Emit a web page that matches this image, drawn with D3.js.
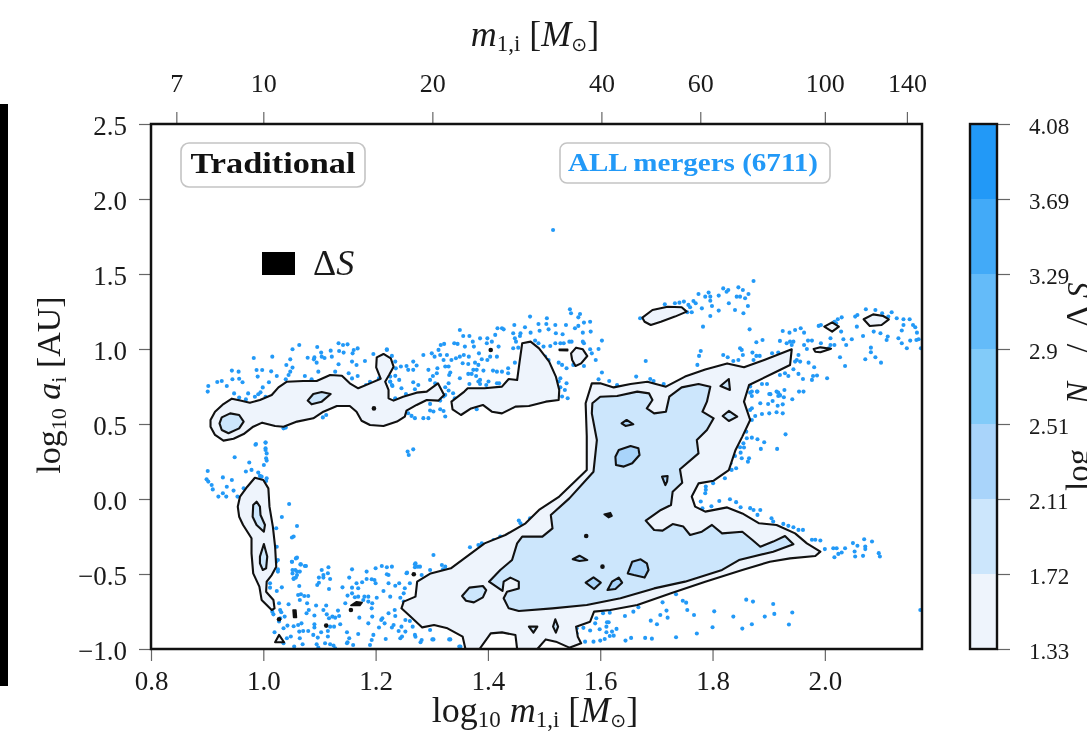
<!DOCTYPE html>
<html><head><meta charset="utf-8">
<script src="https://d3js.org/d3.v7.min.js"></script>
<style>
html,body{margin:0;padding:0;background:#fff;overflow:hidden}
svg{display:block;filter:blur(0.7px)}
text{font-family:"Liberation Serif","DejaVu Serif",serif;fill:#1a1a1a}
</style></head><body><div id="c"></div>
<script>
// ---------- categories / tick labels ----------
const xTicks=[0.8,1.0,1.2,1.4,1.6,1.8,2.0];
const yTicks=[-1.0,-0.5,0,0.5,1.0,1.5,2.0,2.5];
const massTicks=[7,10,20,40,60,100,140];
const levelLabels=["1.33","1.72","2.11","2.51","2.9","3.29","3.69","4.08"];
const levelColors=["#eef4fc","#cce6fc","#a9d4fa","#82cbf9","#64bbf9","#42aaf8","#2299f7"];

// ---------- contours, level 1.33 ----------
const bandA=[[.906,.527],[.914,.582],[.929,.633],[.944,.669],[.959,.656],[.976,.642],[.994,.66],[1.015,.693],[1.027,.744],[1.042,.782],[1.071,.787],[1.095,.787],[1.119,.827],[1.14,.822],[1.154,.771],[1.169,.738],[1.19,.771],[1.209,.802],[1.201,.878],[1.202,.944],[1.214,.967],[1.227,.938],[1.232,.882],[1.224,.827],[1.217,.782],[1.223,.727],[1.223,.671],[1.232,.656],[1.249,.682],[1.273,.709],[1.291,.716],[1.311,.771],[1.322,.693],[1.312,.656],[1.291,.66],[1.273,.627],[1.255,.589],[1.252,.549],[1.238,.516],[1.214,.487],[1.19,.493],[1.175,.522],[1.166,.582],[1.154,.62],[1.131,.62],[1.107,.582],[1.089,.538],[1.06,.516],[1.036,.482],[1.021,.487],[.998,.509],[.982,.482],[.965,.433],[.947,.402],[.929,.389],[.914,.427],[.906,.482]];
const bandB=[[1.335,.649],[1.358,.716],[1.364,.738],[1.394,.738],[1.425,.749],[1.437,.8],[1.452,.793],[1.456,.904],[1.461,1.038],[1.476,1.049],[1.491,1.004],[1.509,.916],[1.521,.816],[1.527,.727],[1.526,.66],[1.503,.649],[1.473,.62],[1.449,.616],[1.425,.571],[1.407,.582],[1.391,.627],[1.37,.604],[1.352,.56],[1.337,.598]];
const blobC=[[1.548,.971],[1.557,1.009],[1.569,.998],[1.577,.953],[1.566,.904],[1.556,.887],[1.55,.927]];
const blobD=[[1.675,1.209],[1.693,1.26],[1.72,1.282],[1.745,1.278],[1.754,1.249],[1.733,1.216],[1.708,1.182],[1.69,1.16],[1.679,1.182]];
const blobE=[[1.999,1.149],[2.013,1.178],[2.025,1.149],[2.013,1.116]];
const blobF=[[2.069,1.198],[2.086,1.231],[2.104,1.22],[2.114,1.198],[2.101,1.16],[2.08,1.153]];
const blobG=[[1.98,1.0],[1.992,1.011],[2.011,1.002],[1.992,.978],[1.983,.982]];
const mainOuter=[[1.585,.771],[1.6,.771],[1.624,.744],[1.654,.767],[1.684,.782],[1.717,.749],[1.751,.816],[1.787,.864],[1.826,.904],[1.856,.878],[1.892,.927],[1.941,.998],[1.938,.893],[1.908,.838],[1.865,.76],[1.856,.649],[1.867,.527],[1.853,.416],[1.841,.327],[1.829,.193],[1.802,.122],[1.775,.104],[1.763,.016],[1.769,-.051],[1.787,-.084],[1.826,-.056],[1.853,-.096],[1.883,-.162],[1.914,-.173],[1.947,-.229],[1.968,-.296],[1.992,-.351],[1.983,-.38],[1.938,-.396],[1.902,-.418],[1.853,-.473],[1.787,-.551],[1.726,-.629],[1.666,-.707],[1.618,-.74],[1.589,-.751],[1.582,-.818],[1.557,-.851],[1.56,-.918],[1.566,-.962],[1.545,-.991],[1.521,-.951],[1.503,-.936],[1.488,-1],[1.452,-1],[1.449,-.907],[1.425,-.889],[1.405,-.896],[1.385,-1],[1.36,-1],[1.355,-.918],[1.328,-.862],[1.304,-.84],[1.283,-.856],[1.262,-.784],[1.246,-.729],[1.25,-.684],[1.271,-.651],[1.274,-.551],[1.298,-.496],[1.334,-.462],[1.358,-.396],[1.394,-.296],[1.431,-.24],[1.467,-.162],[1.491,-.073],[1.527,.016],[1.576,.193],[1.576,.42],[1.574,.638]];
const bandJ=[[.9545,-.051],[.9585,.016],[.9715,.082],[.985,.142],[1.0,.127],[1.009,.071],[1.011,-.051],[1.017,-.184],[1.021,-.318],[1.023,-.451],[1.015,-.507],[1.006,-.551],[1.005,-.618],[1.018,-.673],[1.02,-.729],[1.015,-.74],[.997,-.673],[.993,-.584],[.982,-.496],[.979,-.362],[.979,-.262],[.964,-.173],[.957,-.118]];
const tinyTriangle=[[1.021,-.955],[1.028,-.906],[1.037,-.955]];

// ---------- contours, level 1.72 ----------
const innerA1=[[.922,.504],[.926,.544],[.941,.571],[.957,.56],[.965,.516],[.957,.471],[.938,.438],[.926,.46]];
const innerA2=[[1.079,.656],[1.089,.7],[1.104,.713],[1.12,.7],[1.104,.649],[1.086,.631]];
const innerJ1=[[.982,-.04],[.988,-.018],[.994,-.051],[.995,-.107],[1.003,-.173],[1.001,-.218],[.988,-.173],[.981,-.118]];
const innerJ2=[[.994,-.384],[1.001,-.3],[1.007,-.384],[1.005,-.462],[.999,-.473],[.994,-.429]];
const mainInner=[[1.586,.638],[1.6,.682],[1.63,.687],[1.666,.716],[1.687,.704],[1.693,.66],[1.683,.604],[1.696,.571],[1.717,.582],[1.723,.682],[1.745,.744],[1.775,.767],[1.796,.749],[1.79,.649],[1.782,.582],[1.802,.538],[1.79,.46],[1.772,.393],[1.775,.304],[1.742,.198],[1.746,.109],[1.729,.049],[1.726,-.04],[1.708,-.073],[1.681,-.144],[1.696,-.207],[1.711,-.211],[1.729,-.167],[1.748,-.184],[1.76,-.24],[1.781,-.218],[1.799,-.173],[1.817,-.229],[1.853,-.218],[1.871,-.273],[1.885,-.318],[1.908,-.284],[1.929,-.247],[1.944,-.302],[1.908,-.351],[1.847,-.407],[1.817,-.473],[1.751,-.551],[1.696,-.596],[1.636,-.662],[1.576,-.707],[1.515,-.729],[1.455,-.747],[1.437,-.729],[1.428,-.662],[1.434,-.618],[1.455,-.596],[1.455,-.551],[1.44,-.524],[1.428,-.551],[1.426,-.613],[1.402,-.551],[1.422,-.473],[1.443,-.407],[1.452,-.296],[1.461,-.251],[1.497,-.251],[1.515,-.196],[1.512,-.107],[1.545,.004],[1.588,.182],[1.594,.393],[1.585,.571]];
const blobL=[[1.354,-.647],[1.367,-.591],[1.391,-.58],[1.397,-.607],[1.391,-.656],[1.375,-.689],[1.361,-.678]];
const islandS6=[[1.473,-.851],[1.488,-.851],[1.481,-.891]];
const islandS7=[[1.516,-.851],[1.52,-.802],[1.525,-.851],[1.521,-.891]];
const islandS8=[[1.814,.753],[1.829,.8],[1.831,.727]];
const islandS9=[[1.818,.553],[1.829,.587],[1.844,.549],[1.829,.52]];

// ---------- contours, level 2.11 ----------
const blobK1=[[1.627,.282],[1.633,.327],[1.654,.353],[1.668,.338],[1.67,.293],[1.657,.238],[1.642,.216],[1.628,.227]];
const blobK2=[[1.649,-.496],[1.657,-.418],[1.672,-.402],[1.683,-.429],[1.686,-.473],[1.679,-.524],[1.66,-.507]];
const islandS1=[[1.638,.504],[1.647,.527],[1.659,.498],[1.645,.487]];
const islandS2=[[1.71,.149],[1.72,.153],[1.719,.116],[1.716,.093]];
const islandS3=[[1.551,-.402],[1.563,-.378],[1.577,-.407],[1.563,-.413]];
const islandS4=[[1.574,-.558],[1.588,-.522],[1.601,-.558],[1.589,-.6]];
const islandS5=[[1.613,-.607],[1.621,-.551],[1.633,-.524],[1.639,-.558],[1.627,-.6]];

// ---------- tiny nearly-black contour islands ----------
const darkIslands=[
 [[1.527,.998],[1.542,.998],[1.542,.989],[1.527,.991]],
 [[1.607,-.102],[1.618,-.091],[1.621,-.113],[1.615,-.124]],
 [[1.053,-.74],[1.058,-.74],[1.059,-.79],[1.054,-.79]],
 [[1.156,-.71],[1.166,-.685],[1.176,-.69],[1.172,-.71]]
];
const darkSpots=[[1.197,.604],[1.575,-.247],[1.604,-.451],[1.268,-.502],[1.405,.993],[1.156,-.74],[1.112,-.844],[1.028,-.802]];

// ---------- individual mergers outside the contours ----------
const mergersUpperLeft=[[.902,.753],[.901,.716],[.918,.78],[.926,.787],[.935,.753],[.944,.856],[.956,.849],[.945,.798],[.957,.802],[.963,.778],[.983,.94],[.988,.86],[.998,.86],[.99,.816],[1.014,.851],[1.016,.949],[1.024,.82],[1.01,.778],[.999,.744],[.973,.704],[.948,.704],[.957,.676],[.969,.664],[.985,.682],[.991,.698],[.995,.711],[1.004,.682],[1.041,.893],[1.048,.931],[1.052,.998],[1.064,1.027],[1.052,.876],[1.048,.849],[1.045,.827],[1.04,.798],[1.074,.82],[1.086,.798],[1.098,.849],[1.079,.942],[1.091,.944],[1.09,.931],[1.095,.909],[1.096,1.013],[1.103,.976],[1.104,.949],[1.109,.94],[1.12,.989],[1.122,.949],[1.134,1.038],[1.142,1.027],[1.15,1.031],[1.135,.987],[1.143,.976],[1.161,.993],[1.168,1.004],[1.159,.971],[1.134,.898],[1.128,.849],[1.158,.916],[1.166,.893],[1.181,.92],[1.152,.838],[1.158,.804],[1.168,.82],[1.196,.967],[1.22,.993],[1.206,.804],[1.19,.782],[1.183,.76],[1.226,.782],[1.229,.76],[1.235,.671],[1.22,.727],[1.036,.471],[1.04,.476],[1.106,.544],[1.112,.56],[.987,.367],[1.004,.376],[1.004,.338]];
const mergersMidLeft=[[.986,.362],[1.004,.376],[1.004,.327],[1.006,.304],[.949,.278],[1.005,.271],[1.006,.256],[.975,.243],[1.001,.227],[.901,.187],[.969,.183],[.979,.194],[.991,.176],[.994,.154],[1.006,.138],[1.005,.12],[.899,.131],[.902,.116],[.928,.144],[.944,.127],[.908,.093],[.91,.064],[.935,.082],[.947,.056],[.928,.038],[.92,.016],[.934,.016],[.965,.071],[.954,.016],[.997,.149],[1.046,-.033],[1.033,-.12],[1.023,-.195],[1.06,-.18],[1.054,-.25],[1.051,-.257],[1.024,-.318],[1.023,-.418],[1.026,-.469],[1.058,-.396],[1.051,-.418],[1.066,-.436],[1.074,-.447],[1.057,-.473],[1.052,-.496],[1.06,-.507],[1.054,-.529],[1.303,-.373],[1.257,.316],[1.259,.293],[1.267,.331]];
const mergersLowerLeft=[[1.051,-.418],[1.06,-.391],[1.067,-.436],[1.076,-.447],[1.052,-.473],[1.06,-.484],[1.065,-.484],[1.058,-.524],[1.054,-.533],[1.026,-.407],[1.026,-.484],[1.012,-.562],[1.012,-.591],[1.033,-.589],[1.024,-.613],[1.064,-.58],[1.062,-.64],[1.067,-.635],[1.073,-.647],[1.08,-.647],[1.065,-.673],[1.045,-.702],[1.028,-.695],[1.03,-.74],[1.032,-.755],[1.016,-.751],[1.018,-.769],[1.038,-.784],[1.03,-.795],[1.028,-.817],[1.036,-.862],[1.043,-.844],[1.054,-.848],[1.062,-.84],[1.068,-.829],[1.064,-.884],[1.071,-.88],[1.08,-.88],[1.078,-.695],[1.081,-.74],[1.077,-.762],[1.094,-.71],[1.091,-.777],[1.112,-.71],[1.107,-.74],[1.113,-.769],[1.117,-.795],[1.123,-.784],[1.128,-.791],[1.135,-.78],[1.133,-.744],[1.091,-.835],[1.091,-.857],[1.103,-.888],[1.115,-.88],[1.119,-.851],[1.126,-.851],[1.137,-.835],[1.089,-.906],[1.097,-.924],[1.115,-.917],[1.095,-.968],[1.098,-.99],[1.11,-.962],[1.119,-.968],[1.125,-.977],[1.128,-.995],[1.07,-.968],[1.065,-.928],[1.049,-.917],[1.042,-.928],[1.02,-.888],[1.036,-.962],[1.055,-.984],[1.149,-.888],[1.169,-.9],[1.153,-.928],[1.15,-.955],[1.16,-.973],[1.149,-.962],[1.196,-.906],[1.193,-.94],[1.19,-.973],[1.187,-.829],[1.206,-.857],[1.216,-.829],[1.232,-.84],[1.212,-.795],[1.21,-.806],[1.229,-.857],[1.218,-.933],[1.241,-.88],[1.253,-.884],[1.247,-.917],[1.244,-.928],[1.261,-.813],[1.266,-.851],[1.27,-.906],[1.282,-.94],[1.28,-.955],[1.223,-.762],[1.234,-.74],[1.235,-.78],[1.25,-.684],[1.244,-.658],[1.226,-.651],[1.214,-.613],[1.194,-.784],[1.193,-.729],[1.194,-.695],[1.202,-.658],[1.187,-.651],[1.18,-.651],[1.187,-.684],[1.178,-.673],[1.169,-.651],[1.163,-.655],[1.15,-.644],[1.146,-.695],[1.171,-.791],[1.158,-.591],[1.141,-.589],[1.117,-.6],[1.107,-.524],[1.099,-.524],[1.096,-.573],[1.099,-.558],[1.107,-.507],[1.119,-.533],[1.104,-.473],[1.116,-.455],[1.115,-.495],[1.158,-.469],[1.153,-.524],[1.166,-.562],[1.176,-.555],[1.184,-.533],[1.193,-.535],[1.198,-.54],[1.2,-.562],[1.223,-.507],[1.22,-.502],[1.223,-.562],[1.235,-.578],[1.242,-.562],[1.252,-.595],[1.25,-.629],[1.261,-.562],[1.255,-.495],[1.27,-.435],[1.279,-.451],[1.27,-.455],[1.229,-.451],[1.22,-.455],[1.211,-.447],[1.2,-.462],[1.184,-.484],[1.169,-.595],[1.158,-.629],[1.271,-.429],[1.275,-.451],[1.318,-.44],[1.324,-.451],[1.32,-.469],[1.297,-.473],[1.282,-.507],[1.256,-.491],[1.351,-.44],[1.368,-.322],[1.383,-.307],[1.389,-.296],[1.41,-.273],[1.422,-.251],[1.455,-.144],[1.475,-.129],[1.458,-.162],[1.303,-.936],[1.333,-.936],[1.351,-.984],[1.297,-.873],[1.271,-.918],[1.301,-.936],[1.331,-.936],[1.349,-.984],[1.253,-.807],[1.246,-.851]];
const mergersMiddle=[[1.22,.998],[1.229,.954],[1.235,.916],[1.236,.871],[1.245,.883],[1.255,.887],[1.258,.861],[1.267,.916],[1.273,.89],[1.267,.861],[1.226,.816],[1.235,.821],[1.242,.794],[1.226,.783],[1.23,.754],[1.246,.738],[1.267,.778],[1.276,.76],[1.27,.732],[1.254,.7],[1.235,.667],[1.285,.96],[1.3,.971],[1.312,.994],[1.315,.96],[1.305,.949],[1.321,.927],[1.327,.96],[1.316,1.027],[1.322,1.034],[1.294,.861],[1.31,.872],[1.309,.838],[1.324,.883],[1.33,.883],[1.297,.794],[1.302,.82],[1.306,.772],[1.333,.843],[1.331,.827],[1.33,.772],[1.335,.927],[1.343,.938],[1.35,.949],[1.357,.96],[1.34,1.038],[1.346,1.034],[1.359,1.016],[1.35,1.127],[1.356,1.087],[1.367,1.087],[1.373,1.049],[1.375,1.016],[1.386,1.071],[1.399,1.071],[1.398,1.038],[1.407,1.049],[1.413,1.094],[1.419,1.016],[1.417,1.138],[1.425,1.138],[1.428,1.131],[1.447,1.16],[1.466,1.145],[1.49,1.167],[1.505,1.205],[1.504,1.167],[1.52,1.16],[1.508,1.131],[1.521,1.105],[1.533,1.098],[1.539,1.16],[1.555,1.138],[1.561,1.154],[1.571,1.176],[1.582,1.182],[1.569,1.109],[1.583,1.116],[1.475,1.216],[1.546,1.265],[1.548,1.238],[1.564,1.233],[1.561,1.211],[1.445,1.105],[1.458,1.105],[1.457,1.087],[1.476,1.109],[1.492,1.122],[1.448,1.071],[1.45,1.049],[1.484,1.056],[1.49,1.038],[1.499,1.016],[1.511,1.02],[1.52,1.038],[1.529,1.038],[1.535,1.038],[1.545,1.049],[1.549,1.049],[1.569,1.049],[1.571,1.038],[1.603,1.056],[1.597,1.0],[1.582,.998],[1.585,.971],[1.592,.927],[1.571,.887],[1.54,.872],[1.532,.894],[1.526,.909],[1.508,.927],[1.502,.949],[1.448,.909],[1.436,.872],[1.425,.849],[1.416,.849],[1.409,.856],[1.392,.856],[1.383,.894],[1.377,.909],[1.365,.9],[1.355,.905],[1.366,.949],[1.384,.971],[1.389,.932],[1.399,.927],[1.404,.949],[1.416,.949],[1.445,1.005],[1.454,1.009],[1.386,.794],[1.374,.861],[1.365,.834],[1.371,.834],[1.38,.861],[1.35,.805],[1.367,.767],[1.383,.783],[1.386,.767],[1.401,.783],[1.397,.76],[1.379,.82],[1.416,.772],[1.42,.772],[1.436,.838],[1.529,.805],[1.526,.783],[1.54,.772],[1.529,.745],[1.537,.727],[1.542,.672],[1.532,.683],[1.603,.843],[1.616,.787],[1.597,.798],[1.63,.76],[1.324,.745],[1.33,.723],[1.324,.694],[1.321,.683],[1.338,.705],[1.341,.672],[1.315,.656],[1.285,.661],[1.297,.634],[1.297,.59],[1.303,.583],[1.315,.598],[1.321,.587],[1.324,.55],[1.258,.572],[1.264,.554],[1.27,.539],[1.285,.539],[1.294,.539],[1.38,.598],[1.445,.616],[1.552,.894],[1.505,.905],[1.516,1.793]];
const mergersUpperRight=[[1.873,1.453],[1.846,1.411],[1.854,1.393],[1.819,1.404],[1.825,1.382],[1.828,1.393],[1.793,1.376],[1.775,1.367],[1.787,1.349],[1.796,1.349],[1.811,1.356],[1.843,1.349],[1.849,1.349],[1.864,1.367],[1.858,1.338],[1.796,1.322],[1.799,1.287],[1.766,1.32],[1.77,1.305],[1.781,1.271],[1.829,1.305],[1.811,1.256],[1.84,1.26],[1.863,1.287],[1.855,1.238],[1.715,1.298],[1.733,1.305],[1.741,1.309],[1.749,1.316],[1.757,1.294],[1.76,1.278],[1.755,1.245],[1.763,1.245],[1.796,1.22],[1.783,1.149],[1.671,1.205],[1.866,1.131],[1.925,1.12],[1.937,1.109],[1.947,1.127],[1.957,1.138],[1.963,1.109],[1.993,1.16],[1.989,1.154],[2.017,1.182],[2.023,1.198],[2.03,1.211],[2.02,1.171],[2.029,1.116],[2.058,1.227],[2.054,1.216],[2.073,1.265],[2.09,1.26],[2.102,1.238],[2.119,1.245],[2.113,1.216],[2.128,1.205],[2.14,1.198],[2.151,1.198],[2.14,1.16],[2.157,1.16],[2.161,1.145],[2.164,1.109],[2.137,1.123],[2.057,1.149],[2.068,1.087],[2.087,1.116],[2.099,1.105],[2.112,1.083],[2.11,1.06],[2.131,1.072],[2.152,1.056],[2.163,1.06],[2.167,1.065],[2.137,1.038],[2.146,1.005],[2.171,1.005],[2.033,1.065],[2.048,1.065],[2.038,1.027],[2.01,1.072],[1.977,1.056],[1.97,1.056],[1.993,1.038],[2.01,1.027],[2.017,1.027],[2.007,1.005],[1.963,1.027],[1.968,1.0],[1.938,1.049],[1.92,1.054],[1.889,1.06],[1.878,1.045],[1.932,1.038],[1.944,1.049],[1.941,1.027],[1.849,1.005],[1.852,.994],[1.779,.987],[1.776,.954],[1.819,.96],[1.827,.945],[1.837,.92],[1.846,.927],[1.854,.96],[1.871,.976],[1.878,.954],[1.884,.954],[1.873,.927],[1.906,.972],[1.917,.976],[1.953,.96],[1.95,.927],[1.956,.916],[1.947,.916],[1.971,.909],[1.981,.878],[1.944,.865],[1.929,.838],[1.935,.82],[1.92,.827],[1.953,.834],[1.961,.8],[1.979,.82],[1.986,.823],[2.004,.805],[1.977,.794],[2.082,1.009],[2.082,.978],[2.09,.945],[2.1,.909],[2.072,.932],[2.027,.945],[2.036,.887],[1.681,.92],[1.773,.894],[1.664,.816],[1.689,.8],[1.695,.787],[1.713,.767],[1.888,.767],[1.897,.767],[1.867,.75],[1.87,.716],[1.879,.716],[1.903,.699],[1.914,.716],[1.928,.727],[1.92,.69],[1.954,.716],[1.962,.716],[1.942,.665],[1.917,.687]];
const mergersRight=[[1.867,.709],[1.87,.687],[1.88,.716],[1.901,.7],[1.917,.709],[1.92,.693],[1.927,.678],[1.885,.638],[1.899,.633],[1.907,.653],[1.916,.622],[1.925,.631],[1.87,.605],[1.867,.594],[1.876,.553],[1.888,.567],[1.901,.571],[1.914,.578],[1.925,.571],[1.87,.527],[1.93,.431],[1.86,.449],[1.861,.405],[1.855,.371],[1.87,.409],[1.88,.398],[1.892,.378],[1.849,.345],[1.856,.343],[1.886,.334],[1.915,.334],[1.85,.309],[1.852,.272],[1.84,.287],[1.865,.272],[1.863,.249],[1.832,.238],[1.834,.194],[1.842,.205],[1.822,.138],[1.801,.105],[1.788,.083],[1.788,.061],[1.787,.038],[1.779,-.017],[1.812,-.013],[1.831,-.002],[1.842,-.021],[1.85,-.055],[1.798,-.048],[1.782,-.062],[1.867,-.061],[1.873,-.073],[1.885,-.073],[1.88,-.106],[1.905,-.128],[1.908,-.15],[1.926,-.166],[1.935,-.179],[1.944,-.188],[1.953,-.206],[1.961,-.206],[1.977,-.272],[1.983,-.272],[1.992,-.277],[2.0,-.334],[2.015,-.328],[2.021,-.328],[2.036,-.328],[2.03,-.357],[2.024,-.366],[2.017,-.388],[2.05,-.294],[2.058,-.312],[2.07,-.268],[2.084,-.283],[2.072,-.317],[2.072,-.334],[2.053,-.35],[2.054,-.383],[2.068,-.379],[2.096,-.361],[2.098,-.383]];
const mergersLowerRight=[[1.735,-.635],[1.711,-.689],[1.747,-.678],[1.753,-.691],[1.668,-.722],[1.659,-.751],[1.644,-.78],[1.605,-.762],[1.617,-.758],[1.593,-.795],[1.591,-.829],[1.612,-.822],[1.615,-.822],[1.611,-.851],[1.629,-.866],[1.621,-.884],[1.611,-.888],[1.599,-.868],[1.582,-.877],[1.57,-.859],[1.558,-.862],[1.558,-.895],[1.69,-.811],[1.701,-.835],[1.707,-.773],[1.718,-.744],[1.72,-.791],[1.755,-.74],[1.767,-.773],[1.803,-.749],[1.837,-.784],[1.86,-.671],[1.872,-.684],[1.908,-.7],[1.91,-.766],[1.893,-.784],[1.87,-.835],[1.853,-.864],[1.8,-.855],[1.772,-.897],[1.735,-.922],[1.692,-.931],[1.68,-.926],[1.655,-.926],[1.645,-.944],[1.624,-.911],[1.617,-.913],[1.608,-.933],[1.6,-.944],[1.588,-.951],[1.573,-.951],[1.942,-.757],[1.936,-.837],[2.17,-.74]];

const allMergers=[...mergersUpperLeft,...mergersMidLeft,...mergersLowerLeft,...mergersMiddle,...mergersUpperRight,...mergersRight,...mergersLowerRight];
const level1=[bandA,bandB,blobC,blobD,blobE,blobF,blobG,mainOuter,bandJ,tinyTriangle];
const level2=[innerA1,innerA2,innerJ1,innerJ2,mainInner,blobL,islandS6,islandS7,islandS8,islandS9];
const level3=[blobK1,blobK2,islandS1,islandS2,islandS3,islandS4,islandS5];

// ---------- layout ----------
const W=1087,H=734,L=151,R=922,T=124,B=649;
const x=d3.scaleLinear().domain([0.8,2.173]).range([L,R]);
const y=d3.scaleLinear().domain([-1,2.5]).range([B,T]);
const xMass=d3.scaleLog().domain([Math.pow(10,0.8),Math.pow(10,2.173)]).range([L,R]);
const svg=d3.select("#c").append("svg").attr("width",W).attr("height",H);
const blue=levelColors[6];

// scan artefact on the left edge
svg.append("rect").attr("x",0).attr("y",104).attr("width",8).attr("height",582).attr("fill","#000");

svg.append("defs").append("clipPath").attr("id","plot").append("rect")
 .attr("x",L).attr("y",T).attr("width",R-L).attr("height",B-T);
const g=svg.append("g").attr("clip-path","url(#plot)");

g.append("g").selectAll("circle").data(allMergers).join("circle")
 .attr("cx",d=>x(d[0])).attr("cy",d=>y(d[1])).attr("r",2.05).attr("fill",blue);

const line=d3.line().x(d=>x(d[0])).y(d=>y(d[1])).curve(d3.curveLinearClosed);
[[level1,levelColors[0]],[level2,levelColors[1]],[level3,levelColors[2]]].forEach(([polys,col])=>{
 g.append("g").selectAll("path").data(polys).join("path").attr("d",line)
  .attr("fill",col).attr("stroke","#111").attr("stroke-width",2.1).attr("stroke-linejoin","round");
});
g.append("g").selectAll("path").data(darkIslands).join("path").attr("d",line)
 .attr("fill","#111").attr("stroke","#111").attr("stroke-width",1.6).attr("stroke-linejoin","round");
g.append("g").selectAll("circle").data(darkSpots).join("circle")
 .attr("cx",d=>x(d[0])).attr("cy",d=>y(d[1])).attr("r",2.3).attr("fill","#111");

// ---------- axes ----------
function styleAxis(a,size,shift){
 a.select(".domain").remove();
 a.selectAll(".tick line").attr("stroke","#666").attr("stroke-width",1.2);
 a.selectAll(".tick text").attr("font-size",size).attr("fill","#1a1a1a")
  .attr("font-family",'"Liberation Serif",serif').attr("transform",`translate(0,${shift})`);
}
const fmtMinus=d=>d3.format(".1f")(d).replace("-","\u2212");
const axB=svg.append("g").attr("transform",`translate(0,${B})`)
 .call(d3.axisBottom(x).tickValues(xTicks).tickFormat(fmtMinus).tickSize(12).tickPadding(10));
styleAxis(axB,27,0);
const axL=svg.append("g").attr("transform",`translate(${L},0)`)
 .call(d3.axisLeft(y).tickValues(yTicks).tickFormat(fmtMinus).tickSize(12).tickPadding(12));
styleAxis(axL,27,2);
const axT=svg.append("g").attr("transform",`translate(0,${T})`)
 .call(d3.axisTop(xMass).tickValues(massTicks).tickFormat(d=>d).tickSize(12).tickPadding(20));
styleAxis(axT,26,0);
svg.append("rect").attr("x",L).attr("y",T).attr("width",R-L).attr("height",B-T)
 .attr("fill","none").attr("stroke","#111").attr("stroke-width",2.5);

// ---------- titles ----------
const sun='<tspan font-family="DejaVu Sans" font-size="19" dy="5">\u2299</tspan><tspan dy="-5">]</tspan>';
svg.append("text").attr("x",535).attr("y",722).attr("text-anchor","middle").attr("font-size",36)
 .html('log<tspan font-size="23" dy="5">10</tspan><tspan dy="-5"> </tspan><tspan font-style="italic">m</tspan><tspan font-size="23" dy="5">1,i</tspan><tspan dy="-5"> [</tspan><tspan font-style="italic">M</tspan>'+sun);
svg.append("text").attr("x",535).attr("y",46).attr("text-anchor","middle").attr("font-size",36)
 .html('<tspan font-style="italic">m</tspan><tspan font-size="23" dy="5">1,i</tspan><tspan dy="-5"> [</tspan><tspan font-style="italic">M</tspan>'+sun);
svg.append("text").attr("transform","translate(60,385) rotate(-90)").attr("text-anchor","middle").attr("font-size",34)
 .html('log<tspan font-size="22" dy="6">10</tspan><tspan dy="-6"> </tspan><tspan font-style="italic">a</tspan><tspan font-size="22" dy="6">i</tspan><tspan dy="-6"> [AU]</tspan>');

// ---------- annotations ----------
svg.append("rect").attr("x",181).attr("y",143).attr("width",184).attr("height",44).attr("rx",8)
 .attr("fill","#fff").attr("stroke","#c4c4c4").attr("stroke-width",1.6);
svg.append("text").attr("x",273).attr("y",173).attr("text-anchor","middle").attr("font-size",30)
 .attr("font-weight","bold").attr("textLength",165).attr("lengthAdjust","spacingAndGlyphs").style("fill","#111").text("Traditional");
svg.append("rect").attr("x",560).attr("y",143).attr("width",270).attr("height",40).attr("rx",7)
 .attr("fill","#fff").attr("stroke","#c4c4c4").attr("stroke-width",1.6);
svg.append("text").attr("x",693).attr("y",171).attr("text-anchor","middle").attr("font-size",24.5)
 .attr("font-weight","bold").attr("textLength",250).attr("lengthAdjust","spacingAndGlyphs").style("fill",blue).text("ALL mergers (6711)");
svg.append("rect").attr("x",262).attr("y",252).attr("width",33).attr("height",23).attr("fill","#000");
svg.append("text").attr("x",313).attr("y",275).attr("font-size",36)
 .html('\u0394<tspan font-style="italic">S</tspan>');

// ---------- colour bar ----------
const cbY=d3.scalePoint().domain(levelLabels).range([B,T]);
const CL=970,CR=997;
svg.append("g").selectAll("rect").data(levelColors).join("rect")
 .attr("x",CL).attr("width",CR-CL)
 .attr("y",(d,i)=>cbY(levelLabels[i+1])).attr("height",(d,i)=>cbY(levelLabels[i])-cbY(levelLabels[i+1]))
 .attr("fill",d=>d);
const axC=svg.append("g").attr("transform",`translate(${CR},0)`)
 .call(d3.axisRight(cbY).tickSize(13).tickPadding(19));
axC.select(".domain").remove();
styleAxis(axC,23,2);
svg.append("rect").attr("x",CL).attr("y",T).attr("width",CR-CL).attr("height",B-T)
 .attr("fill","none").attr("stroke","#111").attr("stroke-width",2.4);

// colour bar title pieces, cut by the page edge as in the source image
const cbParts=[["log",491,33,"normal"],["N",404,33,"italic"],["/",353,33,"normal"],["\u0394",327,33,"normal"],["S",298,31,"italic"]];
svg.append("g").selectAll("text").data(cbParts).join("text")
 .attr("transform",d=>`translate(1089,${d[1]}) rotate(-90)`)
 .attr("font-size",d=>d[2]).attr("font-style",d=>d[3]).text(d=>d[0]);
</script></body></html>
